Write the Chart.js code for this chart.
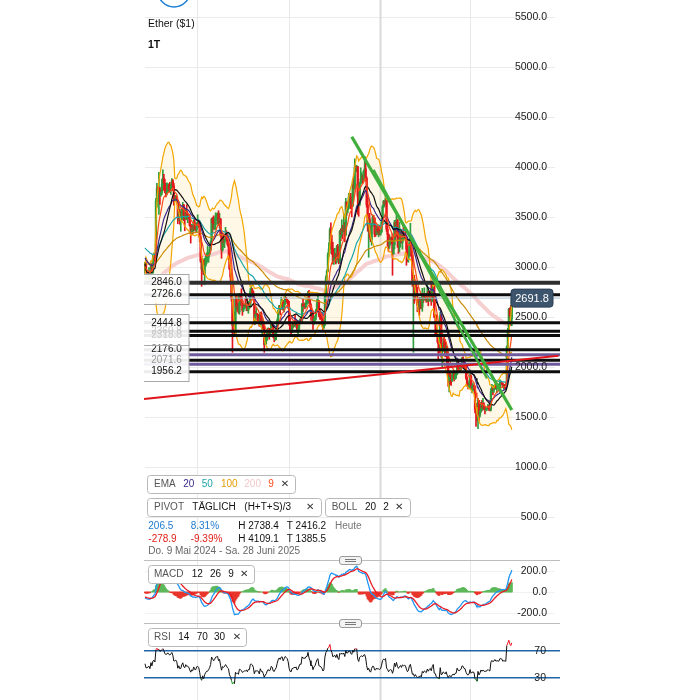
<!DOCTYPE html>
<html>
<head>
<meta charset="utf-8">
<title>Ether ($1) – 1T</title>
<script src="https://cdn.jsdelivr.net/npm/chart.js@4.4.1/dist/chart.umd.min.js"></script>
<style>
  html, body { margin: 0; padding: 0; background: #fff; width: 700px; height: 700px; overflow: hidden; }
  canvas { position: absolute; left: 144px; }
  #main { top: 0; }
  #macd { top: 560px; }
  #rsi  { top: 623px; }
  .sep { position: absolute; left: 144px; width: 416px; height: 1px; background: #bdbdbd; }
  .handle { position: absolute; left: 339px; width: 23px; height: 9px; box-sizing: border-box;
            border: 1px solid #9a9a9a; border-radius: 3px; background: #f3f3f3; }
  .handle i { position: absolute; left: 5px; width: 11px; height: 1px; background: #7a7a7a; }
</style>
</head>
<body>
<canvas id="main" width="416" height="560"></canvas>
<canvas id="macd" width="416" height="63"></canvas>
<canvas id="rsi" width="416" height="77"></canvas>
<div class="sep" style="top:560px"></div>
<div class="handle" style="top:556px"><i style="top:2px"></i><i style="top:4px"></i></div>
<div class="sep" style="top:623px"></div>
<div class="handle" style="top:619px"><i style="top:2px"></i><i style="top:4px"></i></div>
<script>
// ---------- daily Ether prices, 9 May 2024 onwards ----------
const START_DATE = '2024-05-09';
const FIRST_OPEN = 2970.7;

const closes = [
  // May 2024
  3036,2910,2912,2930,2950,2881,3037,2945,3092,3122,3071,3663,3789,3737,3780,3727,3749,3826,3892,3840,3763,3747,3760,
  // Jun 2024
  3815,3780,3767,3810,3865,3812,3679,3681,3706,3667,3498,3560,3470,3478,3566,3620,3511,3483,3559,3513,3517,3495,3418,3351,3396,3370,3448,3380,3376,3433,
  // Jul 2024
  3439,3420,3297,3060,2980,3068,2930,3018,3066,3100,3100,3134,3176,3251,3483,3444,3388,3427,3506,3519,3536,3441,3482,3336,3174,3274,3249,3271,3320,3280,3232,
  // Aug 2024
  3204,2988,2903,2689,2418,2460,2342,2682,2597,2610,2555,2722,2703,2664,2570,2592,2614,2613,2637,2573,2631,2623,2763,2768,2746,2682,2457,2528,2528,2526,2513,
  // Sep 2024
  2425,2538,2450,2451,2368,2226,2271,2297,2359,2389,2340,2362,2441,2418,2316,2295,2340,2371,2466,2561,2612,2581,2646,2654,2579,2633,2695,2679,2658,2603,
  // Oct 2024
  2448,2364,2350,2415,2414,2440,2422,2441,2371,2386,2439,2476,2470,2630,2607,2612,2605,2645,2648,2746,2666,2621,2524,2536,2435,2487,2507,2568,2638,2660,2519,
  // Nov 2024
  2512,2495,2463,2399,2423,2719,2895,2960,3127,3182,3375,3244,3186,3061,3093,3130,3072,3207,3109,3063,3358,3329,3392,3362,3413,3325,3653,3577,3591,3705,
  // Dec 2024
  3707,3643,3616,3836,3786,4001,3998,4006,3709,3628,3836,3882,3908,3877,3960,3986,3890,3625,3417,3481,3334,3279,3416,3497,3490,3334,3332,3395,3349,3356,3333,
  // Jan 2025
  3353,3451,3605,3657,3634,3685,3381,3328,3221,3268,3283,3266,3135,3225,3449,3310,3475,3308,3218,3282,3325,3247,3337,3305,3320,3305,3182,3078,3114,3247,3298,
  // Feb 2025
  3115,2869,2882,2731,2786,2685,2622,2632,2630,2662,2603,2736,2676,2726,2692,2661,2744,2670,2716,2738,2663,2764,2819,2509,2494,2335,2306,2237,
  // Mar 2025
  2217,2518,2151,2172,2243,2201,2140,2202,2020,1865,1921,1908,1862,1912,1934,1887,1926,1932,2058,1983,1968,1983,2005,2081,2069,2012,2003,1896,1828,1805,1822,
  // Apr 2025
  1906,1795,1816,1817,1806,1580,1553,1473,1669,1522,1566,1644,1594,1624,1588,1577,1584,1589,1614,1587,1578,1756,1796,1770,1787,1820,1792,1799,1799,1793,
  // May 2025
  1838,1841,1834,1807,1818,1813,1810,2207,2346,2583,2514,2485.3,2691.8
];

const highs = [
  3050,3053,2944,2955,2997,2960,3041,3040,3120,3145,3132,3690,3840,3812,3950,3800,3780,3880,3975,3930,3880,3825,3845,
  3840,3830,3850,3832,3888,3878,3840,3710,3720,3710,3672,3657,3580,3530,3585,3650,3630,3515,3585,3625,3545,3530,3525,3433,3430,3420,3475,3490,3400,3448,
  3525,3465,3425,3305,3112,3085,3075,3090,3110,3145,3215,3150,3205,3265,3490,3500,3515,3490,3545,3535,3545,3565,3540,3490,3340,3290,3330,3280,3400,3365,3350,
  3245,3220,3015,2935,2700,2555,2550,2720,2710,2640,2720,2740,2725,2785,2675,2640,2630,2690,2645,2690,2660,2645,2790,2820,2790,2765,2700,2560,2600,2540,2530,
  2520,2550,2555,2490,2465,2410,2315,2310,2370,2395,2390,2385,2460,2445,2425,2325,2375,2375,2485,2575,2620,2615,2700,2670,2670,2665,2725,2700,2680,2670,
  2660,2495,2400,2440,2430,2450,2520,2465,2470,2415,2465,2485,2490,2640,2685,2640,2645,2670,2665,2760,2770,2675,2635,2565,2565,2500,2515,2580,2680,2720,2670,
  2580,2530,2495,2480,2445,2735,2915,2975,3145,3245,3395,3445,3320,3250,3130,3190,3140,3220,3230,3130,3370,3385,3475,3420,3535,3450,3690,3650,3625,3740,
  3730,3740,3665,3880,3930,4085,4015,4020,4010,3790,3850,3995,3945,3925,3970,4109.1,4060,3905,3710,3500,3540,3360,3440,3525,3520,3495,3425,3415,3410,3425,3420,
  3365,3490,3620,3670,3665,3745,3700,3410,3335,3320,3300,3305,3335,3260,3470,3455,3525,3450,3400,3450,3360,3355,3345,3430,3345,3370,3250,3220,3160,3285,3440,
  3320,3160,2925,2920,2830,2860,2800,2665,2700,2700,2690,2790,2735,2795,2735,2725,2850,2760,2735,2765,2845,2790,2855,2830,2525,2525,2375,2310,
  2275,2550,2525,2220,2285,2320,2280,2225,2210,2150,1960,1955,1925,1945,1945,1940,1955,1935,2065,2070,1995,2000,2020,2100,2105,2070,2035,2015,1905,1845,1865,
  1930,1925,1830,1845,1820,1815,1640,1620,1690,1670,1580,1650,1670,1690,1645,1600,1600,1595,1630,1615,1665,1785,1830,1790,1820,1830,1855,1820,1835,1815,
  1875,1865,1850,1845,1830,1830,1840,2215,2390,2590,2595,2620,2738.4
];

const lows = [
  2936,2883,2878,2903,2862,2863,2863,2930,2933,3080,3055,3054,3602,3658,3530,3628,3712,3726,3817,3770,3745,3705,3725,
  3750,3755,3755,3730,3780,3768,3620,3665,3663,3640,3435,3465,3430,3360,3470,3545,3465,3365,3480,3475,3445,3485,3412,3242,3335,3330,3360,3375,3360,3350,
  3425,3400,3255,3050,2810,2955,2925,2825,3010,3035,3055,3050,3125,3165,3245,3345,3380,3375,3380,3475,3430,3420,3395,3310,3090,3160,3205,3195,3270,3260,3220,
  3080,2975,2860,2660,2150,2410,2310,2325,2560,2585,2540,2530,2615,2640,2520,2555,2585,2600,2565,2565,2540,2590,2610,2745,2730,2670,2425,2430,2515,2440,2495,
  2410,2420,2425,2310,2355,2150,2250,2235,2270,2325,2280,2330,2345,2400,2295,2255,2270,2275,2370,2450,2545,2525,2580,2595,2570,2555,2625,2650,2640,2590,
  2420,2355,2310,2350,2395,2405,2415,2400,2355,2335,2375,2435,2440,2445,2560,2595,2585,2600,2630,2640,2645,2600,2470,2505,2380,2430,2465,2475,2560,2625,2505,
  2480,2480,2420,2360,2390,2420,2705,2870,2955,3110,3140,3215,3130,3035,3030,3080,3035,3045,3085,3035,3045,3265,3300,3285,3355,3255,3315,3520,3545,3585,
  3650,3585,3505,3605,3705,3780,3960,3955,3530,3510,3615,3835,3855,3840,3850,3915,3865,3600,3360,3100,3300,3255,3220,3405,3440,3305,3310,3325,3330,3305,3325,
  3320,3350,3440,3595,3610,3625,3360,3210,3155,3190,3230,3235,2920,3130,3185,3270,3305,3200,3140,3155,3200,3240,3180,3270,3285,3295,3020,3055,3050,3110,3250,
  3100,2810,2150,2640,2690,2665,2555,2575,2520,2585,2585,2560,2645,2670,2675,2650,2655,2615,2660,2700,2620,2655,2750,2495,2320,2310,2250,2075,
  2145,2170,2100,1995,2160,2180,2105,2135,1995,1810,1755,1830,1820,1860,1905,1865,1880,1890,1925,1960,1950,1965,1975,2000,2050,1995,1985,1880,1810,1785,1790,
  1820,1780,1745,1760,1780,1545,1410,1465,1385.5,1470,1505,1550,1565,1575,1580,1535,1565,1570,1580,1570,1565,1565,1745,1725,1750,1780,1785,1745,1790,1765,
  1790,1825,1825,1800,1780,1785,1780,1805,2180,2345,2470,2420,2416.2
];

// ---------- axis ticks, levels and indicator settings ----------
const priceTicks = [500, 1000, 1500, 2000, 2500, 3000, 3500, 4000, 4500, 5000, 5500];
const pivotLevels = [2846.0, 2726.6, 2444.8, 2360.8, 2318.0, 2176.0, 2071.6, 1956.2];
const pivotLabelColors = ['#111', '#111', '#111', '#c9c9c9', '#c9c9c9', '#111', '#9a9a9a', '#111'];
const pivotGroups = [[0, 1], [2, 3, 4], [5, 6, 7]];
const pivotPurpleLevels = [2126, 2030];
const quarterDates = ['2024-07-01', '2024-10-01', '2025-01-01', '2025-04-01'];
const yearStartDates = ['2025-01-01'];
const greenTrendDates = ['2024-12-03', '2025-05-13'];
const greenTrendPrices = [4306, 1573];
const greenTrend2Dates = ['2024-12-25', '2025-04-18'];
const greenTrend2Prices = [3975, 1887];
const redTrendDates = ['2024-05-08', '2025-06-29'];
const redTrendPrices = [1682, 2115];

const emaPeriods = [9, 20, 50, 100, 200];
const emaStart   = [3000, 3100, 3200, 3040, 2850];
const emaColors  = ['#ff4a1c', '#3b2a8c', '#1ca5a8', '#c98b05', '#f6d0d0'];
const BOLL_PERIOD = 20, BOLL_MULT = 2;
const macdPeriods = [12, 26, 9];
const macdStart = [3040, 3100, -45];
const macdTicks = [200, 0, -200];
const RSI_PERIOD = 14;
const rsiLevels = [70, 30];
const rsiStart = [34, 38];

const DATE_RANGE = 'Do. 9 Mai 2024 - Sa. 28 Juni 2025';

// ---------- derived series ----------
const DAY = 864e5;
const dayIndex = d => (Date.parse(d) - Date.parse(START_DATE)) / DAY;
const N = closes.length;
const opens = closes.map((c, i) => (i ? closes[i - 1] : FIRST_OPEN));

function ema(src, n, start) {
  const k = 2 / (n + 1);
  let e = start;
  return src.map(v => (e = e + k * (v - e)));
}
function bollinger(src, n, mult) {
  const mid = [], up = [], lo = [];
  src.forEach((_, i) => {
    const w = src.slice(Math.max(0, i - n + 1), i + 1);
    const m = w.reduce((a, b) => a + b, 0) / w.length;
    const sd = Math.sqrt(w.reduce((a, b) => a + (b - m) * (b - m), 0) / w.length);
    mid.push(m); up.push(m + mult * sd); lo.push(m - mult * sd);
  });
  return { mid, up, lo };
}
const emas = emaPeriods.map((p, j) => ema(closes, p, emaStart[j]));
const boll = bollinger(closes, BOLL_PERIOD, BOLL_MULT);
const fast = ema(closes, macdPeriods[0], macdStart[0]);
const slow = ema(closes, macdPeriods[1], macdStart[1]);
const macdLine = fast.map((v, i) => v - slow[i]);
const signalLine = ema(macdLine, macdPeriods[2], macdStart[2]);
const histogram = macdLine.map((v, i) => v - signalLine[i]);
let avgGain = rsiStart[0], avgLoss = rsiStart[1];
const rsi = closes.map((c, i) => {
  const d = c - opens[i];
  avgGain = (avgGain * (RSI_PERIOD - 1) + Math.max(d, 0)) / RSI_PERIOD;
  avgLoss = (avgLoss * (RSI_PERIOD - 1) + Math.max(-d, 0)) / RSI_PERIOD;
  return 100 - 100 / (1 + avgGain / avgLoss);
});

// ---------- drawing helpers ----------
const X_MIN = -1, X_MAX = 417.5;
const FONT = '"Liberation Sans", Arial, "DejaVu Sans", sans-serif';
const UP = '#2e9e3e', DOWN = '#e3161c';

const series = arr => arr.map((v, i) => ({ x: i, y: v }));
const hline = v => [{ x: X_MIN, y: v }, { x: X_MAX, y: v }];
const trend = (dates, prices) => dates.map((d, k) => ({ x: dayIndex(d), y: prices[k] }));
const line = (data, color, width, order, extra) => Object.assign({
  type: 'line', data, borderColor: color, borderWidth: width, pointRadius: 0,
  fill: false, order, tension: 0
}, extra || {});

function rr(ctx, x, y, w, h, r) {
  ctx.beginPath();
  ctx.moveTo(x + r, y);
  ctx.arcTo(x + w, y, x + w, y + h, r);
  ctx.arcTo(x + w, y + h, x, y + h, r);
  ctx.arcTo(x, y + h, x, y, r);
  ctx.arcTo(x, y, x + w, y, r);
  ctx.closePath();
}
function txt(ctx, s, x, y, color, size, weight, align) {
  ctx.font = (weight || 'normal') + ' ' + (size || 10) + 'px ' + FONT;
  ctx.fillStyle = color;
  ctx.textAlign = align || 'left';
  ctx.textBaseline = 'middle';
  ctx.fillText(s, x, y);
}
function legendBox(ctx, x, y, w, h, items) {
  rr(ctx, x + 0.5, y + 0.5, w, h, 3);
  ctx.fillStyle = '#fff'; ctx.fill();
  ctx.strokeStyle = '#b8b8b8'; ctx.lineWidth = 1; ctx.stroke();
  items.forEach(([s, dx, color, weight]) => txt(ctx, s, dx, y + h / 2 + 0.5, color, 10, weight));
}
function drawVGrid(chart) {
  const { ctx, chartArea: a, scales: { x } } = chart;
  ctx.save();
  quarterDates.forEach(d => {
    const strong = yearStartDates.includes(d);
    const px = Math.round(x.getPixelForValue(dayIndex(d) - 0.5)) + 0.5;
    ctx.strokeStyle = strong ? '#dadada' : '#e8e8e8';
    ctx.lineWidth = strong ? 2 : 1;
    ctx.beginPath(); ctx.moveTo(px, a.top); ctx.lineTo(px, a.bottom); ctx.stroke();
  });
  ctx.restore();
}
function baseOptions(ymin, ymax, plugin) {
  return {
    type: 'bar',
    options: {
      responsive: false, animation: false, devicePixelRatio: 1, events: [],
      layout: { padding: 0 },
      plugins: { legend: { display: false }, tooltip: { enabled: false } },
      scales: {
        x: { type: 'linear', min: X_MIN, max: X_MAX, offset: false, display: false },
        y: { type: 'linear', min: ymin, max: ymax, display: false }
      }
    },
    plugins: [plugin]
  };
}

// ---------- price chart ----------
const mainOverlay = {
  id: 'mainOverlay',
  beforeDatasetsDraw(chart) {
    const { ctx, scales: { y } } = chart;
    ctx.save();
    ctx.strokeStyle = '#ebebeb'; ctx.lineWidth = 1;
    priceTicks.forEach(v => {
      const py = Math.round(y.getPixelForValue(v)) + 0.5;
      ctx.beginPath(); ctx.moveTo(1, py); ctx.lineTo(411, py); ctx.stroke();
    });
    ctx.restore();
    drawVGrid(chart);
  },
  afterDatasetsDraw(chart) {
    const { ctx, scales: { y } } = chart;
    ctx.save();
    // price axis
    priceTicks.forEach(v => txt(ctx, v.toFixed(1), 403, y.getPixelForValue(v), '#1a1a1a', 10.5, 'normal', 'right'));
    // pivot labels, lowest group first
    pivotGroups.slice().reverse().forEach(g => {
      const top = y.getPixelForValue(pivotLevels[g[0]]) - 9;
      const bot = y.getPixelForValue(pivotLevels[g[g.length - 1]]) + 9;
      ctx.fillStyle = 'rgba(255,255,255,0.92)';
      ctx.fillRect(-0.5, top, 45.5, bot - top);
      ctx.strokeStyle = '#a8a8a8'; ctx.lineWidth = 1;
      ctx.strokeRect(-0.5, Math.round(top) + 0.5, 45.5, Math.round(bot - top));
      g.slice().reverse().forEach(k => txt(ctx, pivotLevels[k].toFixed(1), 22.5, y.getPixelForValue(pivotLevels[k]), pivotLabelColors[k], 10, 'normal', 'center'));
    });
    // last price tag
    const last = closes[N - 1];
    const ly = y.getPixelForValue(last);
    rr(ctx, 367, ly - 9, 42, 18, 3);
    ctx.fillStyle = '#3d546d'; ctx.fill();
    ctx.strokeStyle = '#2c3f55'; ctx.lineWidth = 1; ctx.stroke();
    txt(ctx, last.toFixed(1), 388, ly + 0.5, '#fff', 11, 'normal', 'center');
    // header
    ctx.beginPath(); ctx.arc(30, -9, 16, 0, Math.PI * 2);
    ctx.strokeStyle = '#1a7fd4'; ctx.lineWidth = 1.5; ctx.stroke();
    txt(ctx, 'Ether ($1)', 4, 24, '#111', 10.5);
    txt(ctx, '1T', 4, 45, '#111', 10.5, 'bold');
    // indicator legends
    legendBox(ctx, 3, 475, 148, 18, [
      ['EMA', 10, '#555'], ['20', 39.3, emaColors[1]], ['50', 57.7, emaColors[2]],
      ['100', 77, '#e59a00'], ['200', 100.3, '#f3c9c9'], ['9', 124.3, emaColors[0]], ['\u2715', 136.7, '#333', 'bold']
    ]);
    legendBox(ctx, 3, 498, 174, 18, [
      ['PIVOT', 10, '#555'], ['T\u00c4GLICH', 48.3, '#111'], ['(H+T+S)/3', 100.3, '#111'], ['\u2715', 162, '#333', 'bold']
    ]);
    legendBox(ctx, 181, 498, 85, 18, [
      ['BOLL', 187.7, '#555'], ['20', 221, '#111'], ['2', 239.3, '#111'], ['\u2715', 251, '#333', 'bold']
    ]);
    // change figures
    const prev = closes[N - 2];
    const dDay = last - prev, dAll = last - FIRST_OPEN;
    const fmt = v => (v >= 0 ? '' : '-') + Math.abs(v).toFixed(1);
    txt(ctx, fmt(dDay), 4.3, 526, dDay >= 0 ? '#1f7ad0' : '#e0201a');
    txt(ctx, (dDay / prev * 100).toFixed(2) + '%', 46.7, 526, dDay >= 0 ? '#1f7ad0' : '#e0201a');
    txt(ctx, 'H ' + highs[N - 1].toFixed(1), 94.3, 526, '#111');
    txt(ctx, 'T ' + lows[N - 1].toFixed(1), 142.7, 526, '#111');
    txt(ctx, 'Heute', 191, 526, '#777');
    txt(ctx, fmt(dAll), 4.3, 539.5, dAll >= 0 ? '#1f7ad0' : '#e0201a');
    txt(ctx, (dAll / FIRST_OPEN * 100).toFixed(2) + '%', 46.7, 539.5, dAll >= 0 ? '#1f7ad0' : '#e0201a');
    txt(ctx, 'H ' + Math.max(...highs).toFixed(1), 94.3, 539.5, '#111');
    txt(ctx, 'T ' + Math.min(...lows).toFixed(1), 142.7, 539.5, '#111');
    txt(ctx, DATE_RANGE, 4.3, 551, '#666');
    ctx.restore();
  }
};

const candleColors = closes.map((c, i) => (c >= opens[i] ? UP : DOWN));
const mainCfg = baseOptions(73, 5673, mainOverlay);
mainCfg.data = {
  datasets: [
    line(series(boll.up), 'rgba(0,0,0,0)', 0, 100, { fill: '+1', backgroundColor: 'rgba(255,232,180,0.32)' }),
    line(series(boll.lo), 'rgba(0,0,0,0)', 0, 99),
    line(series(emas[4]), emaColors[4], 4, 90),
    { type: 'bar', order: 80, grouped: false, barThickness: 1, borderWidth: 0,
      backgroundColor: candleColors,
      data: closes.map((c, i) => ({ x: i, y: [Math.min(lows[i], opens[i], c), Math.max(highs[i], opens[i], c)] })) },
    { type: 'bar', order: 79, grouped: false, barThickness: 1.6, borderWidth: 0,
      backgroundColor: candleColors,
      data: closes.map((c, i) => ({ x: i, y: [opens[i], c] })) },
    line(series(boll.up), '#f4a600', 1.2, 60),
    line(series(boll.lo), '#f4a600', 1.2, 60),
    line(series(emas[3]), emaColors[3], 1.2, 55),
    line(series(emas[2]), emaColors[2], 1.2, 54),
    line(series(emas[1]), emaColors[1], 1.2, 53),
    line(series(boll.mid), '#111', 1.2, 52),
    line(series(emas[0]), emaColors[0], 1.2, 51),
    ...pivotLevels.map((v, k) => line(hline(v), k === 0 ? '#2e2e2e' : '#0d0d0d', k === 0 ? 4 : 3, 40)),
    ...pivotPurpleLevels.map(v => line(hline(v), '#6e5a9c', 3, 40)),
    line(hline(closes[N - 1]), '#a9bfd4', 1, 39),
    line(trend(redTrendDates, redTrendPrices), '#e0141a', 2, 30),
    line(trend(greenTrend2Dates, greenTrend2Prices), '#45b040', 2.2, 29),
    line(trend(greenTrendDates, greenTrendPrices), '#3fae3a', 3.2, 28)
  ]
};
new Chart(document.getElementById('main'), mainCfg);

// ---------- MACD panel ----------
const macdOverlay = {
  id: 'macdOverlay',
  beforeDatasetsDraw(chart) {
    const { ctx, scales: { y } } = chart;
    ctx.save();
    ctx.strokeStyle = '#f1f1f1'; ctx.lineWidth = 1;
    macdTicks.forEach(v => {
      const py = Math.round(y.getPixelForValue(v)) + 0.5;
      ctx.beginPath(); ctx.moveTo(1, py); ctx.lineTo(411, py); ctx.stroke();
    });
    ctx.restore();
    drawVGrid(chart);
  },
  afterDatasetsDraw(chart) {
    const { ctx, scales: { y } } = chart;
    ctx.save();
    macdTicks.forEach(v => txt(ctx, v.toFixed(1), 403, y.getPixelForValue(v), '#1a1a1a', 10.5, 'normal', 'right'));
    legendBox(ctx, 4, 5, 106, 18, [
      ['MACD', 10, '#555'], [String(macdPeriods[0]), 47.7, '#111'], [String(macdPeriods[1]), 66, '#111'],
      [String(macdPeriods[2]), 84.3, '#111'], ['\u2715', 96, '#333', 'bold']
    ]);
    ctx.restore();
  }
};
const macdCfg = baseOptions(-295.2, 304.8, macdOverlay);
macdCfg.data = {
  datasets: [
    { type: 'bar', order: 3, grouped: false, barThickness: 1.4, borderWidth: 0,
      backgroundColor: histogram.map(v => (v >= 0 ? '#5db85a' : '#e8352b')),
      data: histogram.map((v, i) => ({ x: i, y: [0, v] })) },
    line(series(macdLine), '#2196f3', 1.3, 2),
    line(series(signalLine), '#ea1b22', 1.3, 1)
  ]
};
new Chart(document.getElementById('macd'), macdCfg);

// ---------- RSI panel ----------
const rsiOverlay = {
  id: 'rsiOverlay',
  beforeDatasetsDraw(chart) { drawVGrid(chart); },
  afterDatasetsDraw(chart) {
    const { ctx, scales: { y } } = chart;
    ctx.save();
    rsiLevels.forEach(v => txt(ctx, String(v), 402, y.getPixelForValue(v), '#1a1a1a', 10.5, 'normal', 'right'));
    legendBox(ctx, 4, 5, 98, 18, [
      ['RSI', 10, '#555'], [String(RSI_PERIOD), 34.3, '#111'], [String(rsiLevels[0]), 52.7, '#111'],
      [String(rsiLevels[1]), 70, '#111'], ['\u2715', 88.7, '#333', 'bold']
    ]);
    ctx.restore();
  }
};
const rsiCfg = baseOptions(-3, 111, rsiOverlay);
rsiCfg.data = {
  datasets: [
    ...rsiLevels.map(v => line(hline(v), '#1f66a8', 1.6, 5)),
    line(series(rsi), '#111', 1, 1, {
      segment: {
        borderColor: c => {
          const a = c.p0.parsed.y, b = c.p1.parsed.y;
          if (a >= rsiLevels[0] && b >= rsiLevels[0]) return '#e8141c';
          if (a <= rsiLevels[1] && b <= rsiLevels[1]) return '#22a02a';
          return '#111';
        }
      }
    })
  ]
};
new Chart(document.getElementById('rsi'), rsiCfg);
</script>
</body>
</html>
